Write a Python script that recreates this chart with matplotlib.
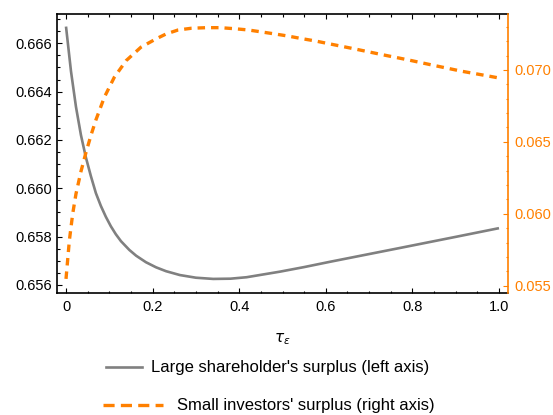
import matplotlib
matplotlib.use("Agg")
import matplotlib.pyplot as plt
from matplotlib.lines import Line2D
from matplotlib.ticker import MultipleLocator, FixedLocator

plt.rcParams['font.family'] = ['Liberation Sans', 'DejaVu Sans']
plt.rcParams['mathtext.fontset'] = 'dejavusans'
plt.rcParams['lines.scale_dashes'] = False

# Data
tau_large = [0, 0.0115, 0.023, 0.0345, 0.046, 0.0575, 0.069, 0.0805, 0.092, 0.1035,
             0.115, 0.127, 0.1462, 0.162, 0.1847, 0.208, 0.231, 0.263, 0.3, 0.34,
             0.38, 0.417, 0.494, 0.55, 0.61, 0.771, 0.9, 1.0]
large_surplus = [0.66669, 0.66484, 0.66337, 0.66220, 0.66127, 0.66050, 0.65980, 0.65927,
                 0.65882, 0.65843, 0.65810, 0.65781, 0.65745, 0.65721, 0.65694, 0.65673,
                 0.65657, 0.65641, 0.65630, 0.65625, 0.65626, 0.65632, 0.65655, 0.65674,
                 0.65696, 0.65753, 0.65799, 0.65835]

tau_small = [0, 0.0077, 0.0154, 0.023, 0.0346, 0.046, 0.0577, 0.069, 0.0885, 0.1115,
             0.139, 0.173, 0.208, 0.231, 0.259, 0.29, 0.325, 0.356, 0.388, 0.421, 0.452,
             0.483, 0.514, 0.544, 0.575, 0.606, 0.667, 0.729, 0.79, 0.852, 0.914, 0.975, 1.0]
small_surplus = [0.05547, 0.05813, 0.05999, 0.06138, 0.06295, 0.06425, 0.06546, 0.06652,
                 0.0681, 0.06949, 0.07065, 0.07158, 0.07216, 0.0725, 0.07278, 0.0729,
                 0.07294, 0.07294, 0.07287, 0.07278, 0.07264, 0.0725, 0.07235, 0.07218,
                 0.07202, 0.07183, 0.07146, 0.07107, 0.0707, 0.0703, 0.06991, 0.06958, 0.06944]

x_ticks = [0, 0.2, 0.4, 0.6, 0.8, 1.0]
x_tick_labels = ["0", "0.2", "0.4", "0.6", "0.8", "1.0"]
left_ticks = [0.656, 0.658, 0.660, 0.662, 0.664, 0.666]
right_ticks = [0.055, 0.060, 0.065, 0.070]

legend_labels = ["Large shareholder's surplus (left axis)",
                 "Small investors' surplus (right axis)"]

GRAY = "#808080"
ORANGE = "#ff8000"

W, H = 553, 415
fig = plt.figure(figsize=(W / 100, H / 100), dpi=100)
ax = fig.add_axes([56.7 / W, 1 - 292.7 / H, (508 - 56.7) / W, (292.7 - 14) / H])
ax2 = ax.twinx()

ax.plot(tau_large, large_surplus, color=GRAY, lw=1.9, solid_capstyle='butt',
        solid_joinstyle='round', zorder=3)
ax2.plot(tau_small, small_surplus, color=ORANGE, lw=2.4, dashes=(5.4, 4.3),
         dash_capstyle='butt')

ax.set_xlim(-0.0215, 1.0208)
ax.set_ylim(0.65568, 0.66721)
ax2.set_ylim(0.05451, 0.07389)

ax.xaxis.set_major_locator(FixedLocator(x_ticks))
ax.set_xticklabels(x_tick_labels)
ax.xaxis.set_minor_locator(MultipleLocator(0.05))
ax.yaxis.set_major_locator(FixedLocator(left_ticks))
ax.set_yticklabels([f"{v:.3f}" for v in left_ticks])
ax.yaxis.set_minor_locator(MultipleLocator(0.0005))
ax2.yaxis.set_major_locator(FixedLocator(right_ticks))
ax2.set_yticklabels([f"{v:.3f}" for v in right_ticks])
ax2.yaxis.set_minor_locator(MultipleLocator(0.001))

for a in (ax, ax2):
    for s in a.spines.values():
        s.set_linewidth(1.2)
ax.spines['right'].set_visible(False)
ax2.spines['left'].set_visible(False)
ax2.spines['top'].set_visible(False)
ax2.spines['bottom'].set_visible(False)
ax2.spines['right'].set_color(ORANGE)

ax.tick_params(which='both', direction='in', top=True, right=False, width=0.8,
               labelsize=10.5, colors='black')
ax.tick_params(which='major', length=3.3)
ax.tick_params(which='minor', length=1.8)
ax.tick_params(axis='x', pad=5)
ax.tick_params(axis='y', pad=3.4)
ax2.tick_params(which='both', direction='in', width=0.8, labelsize=10.5,
                color=ORANGE, labelcolor=ORANGE, pad=4.3)
ax2.tick_params(which='major', length=3.3)
ax2.tick_params(which='minor', length=1.8)

fig.text(282 / W, 1 - 339 / H, r'$\tau_\epsilon$', ha='center', va='center', fontsize=11)

# legend (each row centred separately, as in the reference)
fig.add_artist(Line2D([106 / W, 142 / W], [1 - 367 / H] * 2, color=GRAY, lw=1.9,
                      transform=fig.transFigure))
fig.text(151 / W, 1 - 367 / H, legend_labels[0], ha='left', va='center', fontsize=12)
fig.add_artist(Line2D([103 / W, 163 / W], [1 - 405 / H] * 2, color=ORANGE, lw=2.4,
                      dashes=(8.0, 4.5), dash_capstyle='butt', transform=fig.transFigure))
fig.text(177 / W, 1 - 405 / H, legend_labels[1], ha='left', va='center', fontsize=12)

fig.savefig("out.png", dpi=100)
